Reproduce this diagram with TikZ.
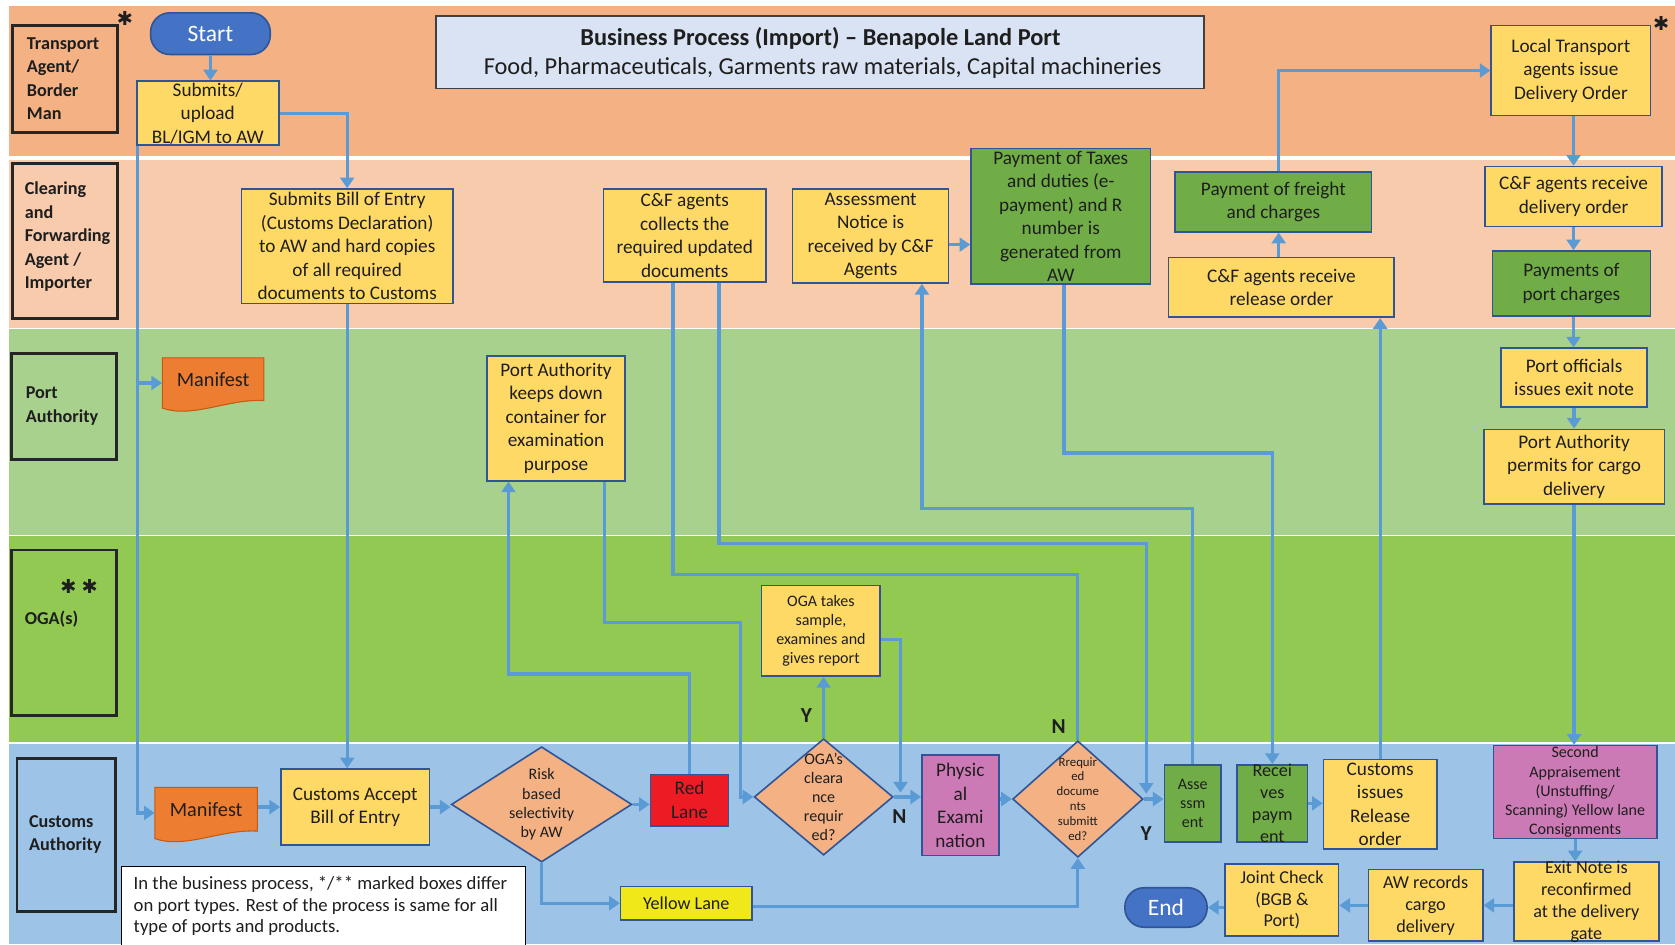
\documentclass[tikz,border=0pt]{standalone}
\usepackage{fontspec}
\setmainfont{Carlito}
\newfontfamily\symfont{DejaVu Sans}
\usetikzlibrary{shapes.geometric,arrows.meta,calc}

\definecolor{bandA}{RGB}{244,177,131}
\definecolor{bandB}{RGB}{248,203,173}
\definecolor{bandC}{RGB}{169,209,142}
\definecolor{bandD}{RGB}{146,201,83}
\definecolor{bandE}{RGB}{157,195,230}
\definecolor{yfill}{RGB}{255,217,102}
\definecolor{gfill}{RGB}{112,173,71}
\definecolor{pfill}{RGB}{204,122,181}
\definecolor{bblue}{RGB}{47,85,151}
\definecolor{lblue}{RGB}{91,155,213}
\definecolor{mfill}{RGB}{237,125,49}
\definecolor{mdraw}{RGB}{197,90,17}
\definecolor{redl}{RGB}{237,28,36}
\definecolor{yell}{RGB}{240,232,24}
\definecolor{sblue}{RGB}{68,114,196}
\definecolor{tfill}{RGB}{218,227,243}
\definecolor{txt}{RGB}{30,30,30}

\tikzset{
  bx/.style={draw=bblue, line width=1.5pt, fill=yfill, inner sep=0pt},
  gbx/.style={bx, fill=gfill},
  pbx/.style={bx, fill=pfill},
  rbx/.style={bx, fill=redl},
  ybx/.style={bx, fill=yell},
  dia/.style={draw=bblue, line width=1.5pt, fill=bandA, diamond, inner sep=0pt},
  term/.style={draw=bblue, line width=1.5pt, fill=sblue, inner sep=0pt, rounded corners=18pt},
  hdr/.style={draw=black!85, line width=2.5pt, inner sep=0pt},
  lbl/.style={align=center, inner sep=0pt, text=txt},
  hlbl/.style={align=left, inner sep=0pt, text=txt, font=\fontsize{17}{22}\selectfont\bfseries},
  yn/.style={inner sep=0pt, text=txt, font=\fontsize{20}{20}\selectfont\bfseries},
  astk/.style={inner sep=0pt, text=txt, font=\symfont\fontsize{18}{18}\selectfont},
  conn/.style={draw=lblue, line width=3pt, -{Triangle[length=10pt,width=13pt]}},
  wire/.style={draw=lblue, line width=3pt},
  man/.style={draw=mdraw, fill=mfill, line width=1pt},
  f18/.style={font=\fontsize{18}{22}\selectfont},
  f17/.style={font=\fontsize{17}{20.5}\selectfont},
  f16/.style={font=\fontsize{17.5}{20}\selectfont},
  f15/.style={font=\fontsize{15}{18}\selectfont},
  f12/.style={font=\fontsize{12}{14}\selectfont}
}

\newcommand{\mkbox}[8]{%
  \pgfmathsetmacro{\myCX}{(#2+#4)/2}%
  \pgfmathsetmacro{\myCY}{(#3+#5)/2}%
  \pgfmathsetmacro{\myW}{#4-#2}%
  \pgfmathsetmacro{\myH}{#5-#3}%
  \node[#6, minimum width=\myW pt, minimum height=\myH pt] (#1) at (\myCX,\myCY) {};%
  \node[lbl, #7] (#1-t) at (#1.center) {#8};%
}
\newcommand{\mkdia}[7]{%
  \node[dia, minimum width=#4pt, minimum height=#5pt] (#1) at (#2,#3) {};%
  \node[lbl, #6] (#1-t) at (#1.center) {#7};%
}

\begin{document}
\begin{tikzpicture}[x=1pt,y=-1pt]
\useasboundingbox (0,0) rectangle (1568,884);
\fill[white] (0,0) rectangle (1568,884);
% lanes
\fill[bandA] (8,6) rectangle (1568,146);
\fill[bandB] (8,150) rectangle (1568,307);
\fill[bandC] (8,308) rectangle (1568,501);
\fill[bandD] (8,502) rectangle (1568,695);
\fill[bandE] (8,696) rectangle (1568,884);

% lane headers
\node[hdr, minimum width=98pt, minimum height=100pt] (hT) at (61,74) {};
\node[hdr, minimum width=98pt, minimum height=145pt] (hC) at (61,225.5) {};
\node[hdr, minimum width=98pt, minimum height=99pt] (hP) at (60,380.5) {};
\node[hdr, minimum width=98pt, minimum height=155pt] (hO) at (60,592.5) {};
\node[hdr, minimum width=92pt, minimum height=143pt] (hCu) at (62,781.5) {};
\node[hlbl, anchor=west] (hT-t) at (25,73.5) {Transport\\Agent/\\Border\\Man};
\node[hlbl, anchor=west] (hC-t) at (23,221.5) {Clearing\\and\\Forwarding\\Agent /\\Importer};
\node[hlbl, anchor=west] (hP-t) at (24,380) {Port\\Authority};
\node[hlbl, anchor=west] (hO-t) at (23,580) {OGA(s)};
\node[astk] (hO-s1) at (64,549) {✱};
\node[astk] (hO-s2) at (84,549) {✱};
\node[hlbl, anchor=west] (hCu-t) at (27,781) {Customs\\Authority};
\node[astk] (st1) at (117,17) {✱};
\node[astk] (st2) at (1555,22) {✱};

% title
\node[draw=black!75, line width=1.5pt, fill=tfill, minimum width=719pt, minimum height=68pt, inner sep=0pt] (title) at (767.5,49) {};
\node[lbl, font=\fontsize{22.8}{26}\selectfont\bfseries] (title-a) at (768,36) {Business Process (Import) – Benapole Land Port};
\node[lbl, font=\fontsize{22.8}{26}\selectfont] (title-b) at (770,64) {Food, Pharmaceuticals, Garments raw materials, Capital machineries};

% terminals
\node[term, minimum width=112pt, minimum height=39pt] (start) at (197,31.5) {};
\node[lbl, text=white, font=\fontsize{22}{26}\selectfont] (start-t) at (start.center) {Start};
\node[term, minimum width=77pt, minimum height=37pt] (end) at (1091.5,849.5) {};
\node[lbl, text=white, font=\fontsize{22}{26}\selectfont] (end-t) at (end.center) {End};

% manifests
\node[inner sep=0pt, minimum width=95pt, minimum height=47pt] (mpa) at (199.5,358.5) {};
\draw[man] (152,335) -- (247,335) -- (247,375) .. controls (214,373) and (180,392) .. (152,382) -- cycle;
\node[lbl, font=\fontsize{19}{22}\selectfont] (mpa-t) at ($(mpa.center)+(0,-3)$) {Manifest};
\node[inner sep=0pt, minimum width=96pt, minimum height=48pt] (mcu) at (193,761) {};
\draw[man] (145,737) -- (241,737) -- (241,778) .. controls (207,776) and (173,795) .. (145,785) -- cycle;
\node[lbl, font=\fontsize{19}{22}\selectfont] (mcu-t) at ($(mcu.center)+(0,-3)$) {Manifest};

% boxes
\mkbox{sub}{128}{76}{261}{136}{bx}{f18}{Submits/\\upload\\BL/IGM to AW}
\mkbox{bill}{226}{177}{424}{284}{bx}{f18}{Submits Bill of Entry\\(Customs Declaration)\\to AW and hard copies\\of all required\\documents to Customs}
\mkbox{ccol}{565}{177}{717}{264}{bx}{f18}{C\&F agents\\collects the\\required updated\\documents}
\mkbox{asn}{742}{177}{888}{265}{bx}{f18}{Assessment\\Notice is\\received by C\&F\\Agents}
\mkbox{ptx}{909}{139}{1077}{266}{gbx}{f18}{Payment of Taxes\\and duties (e-\\payment) and R\\number is\\generated from\\AW}
\mkbox{pfr}{1100}{161}{1284}{217}{gbx}{f18}{Payment of freight\\and charges}
\mkbox{crr}{1094}{241}{1305}{297}{bx}{f18}{C\&F agents receive\\release order}
\mkbox{lt}{1396}{24}{1545}{108}{bx}{f18}{Local Transport\\agents issue\\Delivery Order}
\mkbox{cfd}{1390}{156}{1556}{212}{bx}{f18}{C\&F agents receive\\delivery order}
\mkbox{ppc}{1397}{235}{1545}{296}{gbx}{f18}{Payments of\\port charges}
\mkbox{pak}{456}{333}{585}{450}{bx}{f18}{Port Authority\\keeps down\\container for\\examination\\purpose}
\mkbox{poe}{1405}{326}{1542}{381}{bx}{f18}{Port officials\\issues exit note}
\mkbox{pap}{1389}{402}{1558}{472}{bx}{f18}{Port Authority\\permits for cargo\\delivery}
\mkbox{ogs}{713}{548}{824}{633}{bx}{f15}{OGA takes\\sample,\\examines and\\gives report}
\mkbox{acc}{263}{720}{402}{791}{bx}{f18}{Customs Accept\\Bill of Entry}
\mkbox{red}{609}{725}{682}{773}{rbx}{f18}{Red\\Lane}
\mkbox{phy}{863}{707}{935}{801}{pbx}{f18}{Physic\\al\\Exami\\nation}
\mkbox{ass}{1090}{716}{1143}{788}{gbx}{f15}{Asse\\ssm\\ent}
\mkbox{rcv}{1158}{716}{1224}{788}{gbx}{f17}{Recei\\ves\\paym\\ent}
\mkbox{cir}{1239}{711}{1345}{795}{bx}{f18}{Customs\\issues\\Release\\order}
\mkbox{sec}{1398}{698}{1551}{785}{pbx}{f15}{Second\\Appraisement\\(Unstuffing/\\Scanning) Yellow lane\\Consignments}
\mkbox{exn}{1417}{807}{1553}{881}{bx}{f17}{Exit Note is\\reconfirmed\\at the delivery\\gate}
\mkbox{awr}{1281}{814}{1388}{881}{bx}{f17}{AW records\\cargo\\delivery}
\mkbox{jc}{1147}{809}{1253}{876}{bx}{f17}{Joint Check\\(BGB \&\\Port)}
\mkbox{yel}{581}{830}{704}{861}{ybx}{f17}{Yellow Lane}

% diamonds
\mkdia{risk}{507}{753}{169}{108}{f15}{Risk\\based\\selectivity\\by AW}
\mkdia{oga}{771}{746}{130}{109}{f15}{OGA’s\\cleara\\nce\\requir\\ed?}
\mkdia{req}{1009}{748}{122}{109}{f12}{Rrequir\\ed\\docume\\nts\\submitt\\ed?}

% note
\node[draw=black, line width=1pt, fill=white, minimum width=378pt, minimum height=76pt, inner sep=0pt] (note) at (303,849) {};
\node[lbl, align=left, anchor=west, f16] (note-t) at (125,848) {In the business process, */** marked boxes differ\\on port types. Rest of the process is same for all\\type of ports and products.};

% Y/N labels
\node[yn] (lY1) at (755,670) {Y};
\node[yn] (lN1) at (842,764) {N};
\node[yn] (lN2) at (991,680) {N};
\node[yn] (lY2) at (1073,780) {Y};

% waypoints
\coordinate (w1) at (476,631);
\coordinate (w2) at (566,583);
\coordinate (w3) at (693,746);
\coordinate (w4) at (843,742);
\coordinate (w5) at (630,538);
\coordinate (w6) at (673,509);
\coordinate (w7) at (1073,743);
\coordinate (w8) at (863,476);
\coordinate (w9) at (996,424);
\coordinate (w10) at (1197,0);

% connectors
\draw[conn] (start.south) -- (start.south |- sub.north);
\draw[conn] (sub.east) -| (bill.north);
\draw[conn] ([xshift=1.5pt]sub.south west) |- (mcu.west);
\draw[conn] ([xshift=1.5pt]sub.south west) |- (mpa.west);
\draw[conn] (bill.south) -- (bill.south |- acc.north);
\draw[conn] (acc.west -| mcu.east) -- (acc.west);
\draw[conn] (acc.east) -- (acc.east -| risk.west);
\draw[conn] (risk.east) -- (risk.east -| red.west);
\draw[conn] (risk.south) |- (yel.west);
\draw[conn] ($(yel.east)+(0,3)$) -| (req.south);
\draw[conn] (red.north) |- (w1) -- (w1 |- pak.south);
\draw[conn] (w2 |- pak.south) -- (w2) -| (w3) -- (oga.west);
\draw[conn] (oga.north) -- (oga.north |- ogs.south);
\draw[conn] ($(ogs.east)+(0,8)$) -| (w4);
\draw[conn] (oga.east) -- (oga.east -| phy.west);
\draw[conn] (phy.east |- req.west) -- (req.west);
\draw[wire] (w5 |- ccol.south) -- (w5) -| (req.north);
\draw[conn] (w6 |- ccol.south) -- (w6) -| (w7);
\draw[conn] (req.east) -- (req.east -| ass.west);
\draw[conn] (ass.north) |- (w8) -- (w8 |- asn.south);
\draw[conn] (w9 |- ptx.south) -- (w9) -| (rcv.north);
\draw[conn] (rcv.east) -- (rcv.east -| cir.west);
\draw[conn] (cir.north) -- (cir.north |- crr.south);
\draw[conn] (w10 |- crr.north) -- (w10 |- pfr.south);
\draw[conn] (w10 |- pfr.north) |- (lt.west);
\draw[conn] (cfd.north |- lt.south) -- (cfd.north);
\draw[conn] (cfd.south) -- (cfd.south |- ppc.north);
\draw[conn] (cfd.south |- ppc.south) -- (cfd.south |- poe.north);
\draw[conn] (poe.south) -- (poe.south |- pap.north);
\draw[conn] (pap.south) -- (pap.south |- sec.north);
\draw[conn] (sec.south) -- (sec.south |- exn.north);
\draw[conn] (exn.west |- awr.east) -- (awr.east);
\draw[conn] (awr.west) -- (awr.west -| jc.east);
\draw[conn] (jc.west |- end.east) -- (end.east);
\draw[conn] ($(asn.east)+(0,8)$) -- ($(asn.east -| ptx.west)+(0,8)$);
\end{tikzpicture}
\end{document}
